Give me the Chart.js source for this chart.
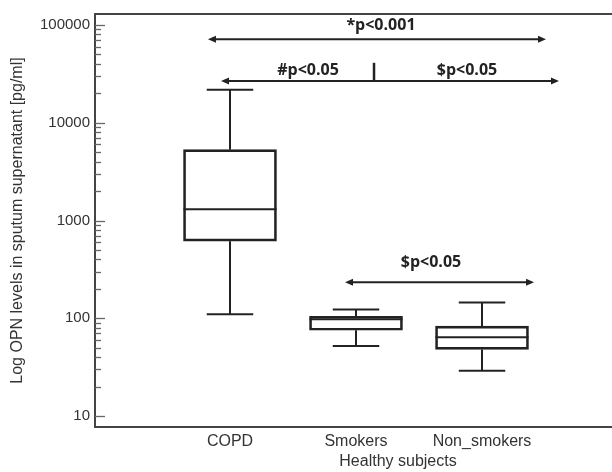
<!DOCTYPE html>
<html>
<head>
<meta charset="utf-8">
<script src="https://cdn.jsdelivr.net/npm/chart.js@4.4.1/dist/chart.umd.min.js"></script>
<style>
  html, body { margin: 0; padding: 0; background: #fff; overflow: hidden; }
  #wrap { width: 720px; height: 472px; }
</style>
</head>
<body>
<div id="wrap"><canvas id="chart" width="720" height="472"></canvas></div>
<script>
const groups = ['COPD', 'Smokers', 'Non_smokers']
const groupPos = [1, 2, 3]
const whiskerLow = [110, 52, 29]
const quartile1 = [615, 75.5, 48]
const medians = [1300, 98, 64]
const quartile3 = [5300, 105, 83]
const whiskerHigh = [21800, 123, 145]

const yMajor = [10, 100, 1000, 10000, 100000]
const yMinorSteps = [2, 3, 4, 5, 6, 7, 8, 9]

// significance arrows and labels, in data units (x = group position, y = pg/ml)
const arrows = [
  { from: 0.825, to: 3.508, y: 71500 },
  { from: 0.929, to: 3.611, y: 26700 },
  { from: 1.913, to: 3.413, y: 233 }
]
const divider = { x: 2.143, from: 26700, to: 41000 }
const pLabels = [
  { text: '*p<0.001', x: 2.198, y: 88400 },
  { text: '#p<0.05', x: 1.619, y: 31000 },
  { text: '$p<0.05', x: 2.881, y: 31000 },
  { text: '$p<0.05', x: 2.595, y: 331 }
]

// all tick values of the log axis: 10, 20 .. 90, 100, 200 ..
let yTicks = []
yMajor.forEach(m => {
  yTicks.push(m)
  if (m < 100000) yMinorSteps.forEach(s => yTicks.push(m * s))
})

Chart.defaults.font.family = '"Liberation Sans", Arial, sans-serif'
Chart.defaults.color = '#333'

const boxExtras = {
  id: 'boxExtras',
  afterDatasetsDraw(chart) {
    const { ctx, scales: { x, y } } = chart
    const bars = chart.getDatasetMeta(0).data
    ctx.save()
    ctx.strokeStyle = '#222'
    ctx.lineWidth = 2
    groupPos.forEach((g, i) => {
      const cx = x.getPixelForValue(g)
      const w = bars[i].width
      const line = (x1, y1, x2, y2) => {
        ctx.beginPath(); ctx.moveTo(x1, y1); ctx.lineTo(x2, y2); ctx.stroke()
      }
      const pMed = y.getPixelForValue(medians[i])
      line(cx - w / 2, pMed, cx + w / 2, pMed)
      const pHi = y.getPixelForValue(whiskerHigh[i])
      const pLo = y.getPixelForValue(whiskerLow[i])
      line(cx, y.getPixelForValue(quartile3[i]), cx, pHi)
      line(cx, y.getPixelForValue(quartile1[i]), cx, pLo)
      line(cx - w / 4, pHi, cx + w / 4, pHi)
      line(cx - w / 4, pLo, cx + w / 4, pLo)
    })
    ctx.restore()
  },
  afterDraw(chart) {
    const { ctx, chartArea: a, scales: { x, y } } = chart
    ctx.save()
    // frame
    ctx.strokeStyle = '#444'
    ctx.lineWidth = 2
    ctx.strokeRect(a.left, a.top, a.right - a.left, a.bottom - a.top)
    // inward ticks on the log axis
    ctx.strokeStyle = '#666'
    ctx.lineWidth = 1.3
    y.ticks.forEach(t => {
      const py = Math.round(y.getPixelForValue(t.value)) + 0.5
      const len = yMajor.includes(t.value) ? 10 : 6
      ctx.beginPath(); ctx.moveTo(a.left, py); ctx.lineTo(a.left + len, py); ctx.stroke()
    })
    // arrows
    ctx.strokeStyle = '#222'
    ctx.fillStyle = '#222'
    ctx.lineWidth = 2
    arrows.forEach(ar => {
      const x1 = x.getPixelForValue(ar.from)
      const x2 = x.getPixelForValue(ar.to)
      const py = y.getPixelForValue(ar.y)
      ctx.beginPath(); ctx.moveTo(x1 + 4, py); ctx.lineTo(x2 - 4, py); ctx.stroke()
      ctx.beginPath()
      ctx.moveTo(x1, py); ctx.lineTo(x1 + 8, py - 3.5); ctx.lineTo(x1 + 8, py + 3.5); ctx.closePath()
      ctx.moveTo(x2, py); ctx.lineTo(x2 - 8, py - 3.5); ctx.lineTo(x2 - 8, py + 3.5); ctx.closePath()
      ctx.fill()
    })
    const dx = x.getPixelForValue(divider.x)
    ctx.lineWidth = 2.5
    ctx.beginPath()
    ctx.moveTo(dx, y.getPixelForValue(divider.from))
    ctx.lineTo(dx, y.getPixelForValue(divider.to))
    ctx.stroke()
    // p-value labels
    ctx.font = 'bold 16px "Open Sans"'
    ctx.textAlign = 'center'
    ctx.textBaseline = 'alphabetic'
    pLabels.forEach(l => {
      ctx.fillText(l.text, x.getPixelForValue(l.x), y.getPixelForValue(l.y))
    })
    ctx.restore()
  }
}

new Chart(document.getElementById('chart'), {
  type: 'bar',
  data: {
    datasets: [{
      data: groupPos.map((g, i) => ({ x: g, y: [quartile1[i], quartile3[i]] })),
      backgroundColor: 'rgba(255,255,255,0)',
      borderColor: '#222',
      borderWidth: 2,
      borderSkipped: false,
      barThickness: 93
    }]
  },
  options: {
    responsive: false,
    animation: false,
    layout: { padding: { top: 12, right: 19, bottom: 0, left: 0 } },
    plugins: { legend: { display: false }, tooltip: { enabled: false } },
    scales: {
      x: {
        type: 'linear',
        offset: false,
        min: -0.0714,
        max: 4.738,
        grid: { display: false, drawTicks: false, offset: false },
        border: { display: false },
        afterBuildTicks: s => { s.ticks = groupPos.map(v => ({ value: v })) },
        afterFit: s => { s.height = 45 },
        ticks: {
          autoSkip: false,
          maxRotation: 0,
          padding: 5,
          font: { size: 16 },
          callback: v => groups[groupPos.indexOf(v)]
        },
        title: {
          display: true,
          text: 'Healthy subjects',
          font: { size: 16 },
          padding: { top: 0, bottom: 1 }
        }
      },
      y: {
        type: 'logarithmic',
        min: 7.73,
        max: 129400,
        grid: { display: false, drawTicks: false },
        border: { display: false },
        afterBuildTicks: s => { s.ticks = yTicks.map(v => ({ value: v })) },
        afterFit: s => { s.width = 95 },
        ticks: {
          autoSkip: false,
          padding: 5,
          font: { size: 15 },
          callback: v => yMajor.includes(v) ? String(v) : ''
        },
        title: {
          display: true,
          text: 'Log OPN levels in sputum supernatant [pg/ml]',
          font: { size: 16 },
          padding: { top: 8, bottom: 0 }
        }
      }
    }
  },
  plugins: [boxExtras]
})
</script>
</body>
</html>
